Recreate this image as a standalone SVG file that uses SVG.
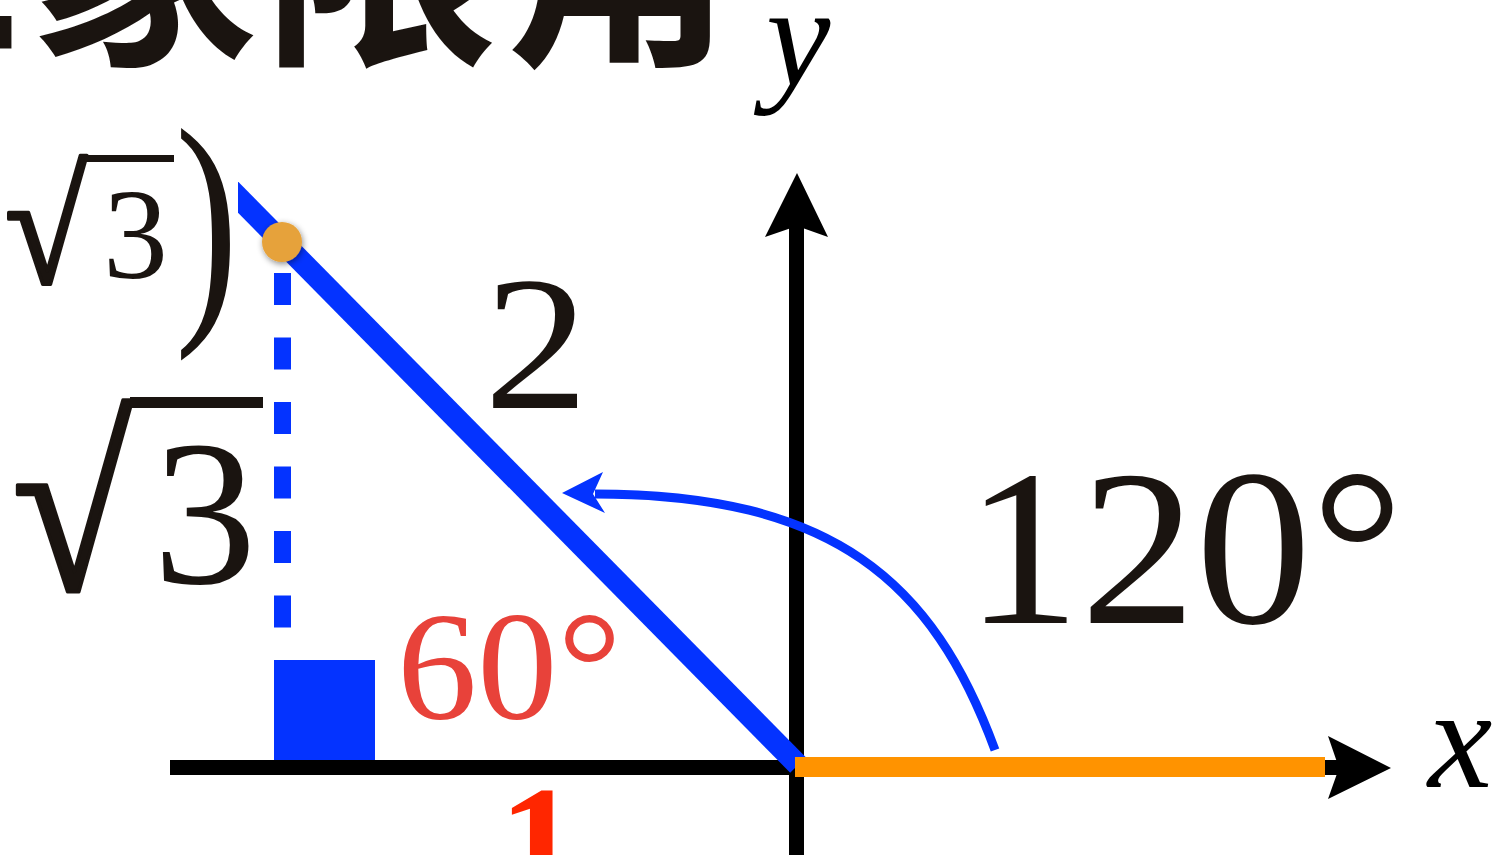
<svg xmlns="http://www.w3.org/2000/svg" width="1494" height="855" viewBox="0 0 1494 855">
  <style>
    .serif { font-family: "Liberation Serif", "Times New Roman", serif; }
    .ink { fill: #1a1410; }
    .blue { fill: #0433ff; }
    .axis { stroke: #000; stroke-width: 15; fill: none; }
    .rad { stroke: #1a1410; stroke-width: 3; stroke-linejoin: round; }
  </style>
  <defs>
    <clipPath id="clipHyp"><rect x="238" y="0" width="1256" height="855"/></clipPath>
    <filter id="shadow" x="-50%" y="-50%" width="200%" height="200%">
      <feDropShadow dx="1" dy="2" stdDeviation="3" flood-color="#000" flood-opacity="0.45"/>
    </filter>
  </defs>

  <g id="title">
    <text x="-450" y="47" font-family="'Noto Sans CJK SC', sans-serif" font-weight="700" font-size="237" class="ink">第二象限角</text>
  </g>

  <g id="axes">
    <line class="axis" x1="170" y1="767.5" x2="1340" y2="767.5"/>
    <polygon points="1391,768 1328,736 1339,768 1328,799" fill="#000"/>
    <line class="axis" x1="796.5" y1="855" x2="796.5" y2="226"/>
    <polygon points="797,173 765,237 797,226 828,237" fill="#000"/>
    <text class="serif" x="1428" y="787" font-size="145" font-style="italic" fill="#000">x</text>
    <text class="serif" x="766" y="85" font-size="145" font-style="italic" fill="#000">y</text>
  </g>

  <g id="triangle">
    <line x1="282.5" y1="273" x2="282.5" y2="660" stroke="#0433ff" stroke-width="17" stroke-dasharray="32 32.5"/>
    <rect class="blue" x="274" y="660" width="101" height="100"/>
    <line x1="225" y1="184" x2="798" y2="765" stroke="#0433ff" stroke-width="22" clip-path="url(#clipHyp)"/>
    <line x1="795" y1="767" x2="1325" y2="767" stroke="#ff9300" stroke-width="20"/>
    <circle cx="282" cy="242" r="20" fill="#e6a23a" filter="url(#shadow)"/>
  </g>

  <g id="connectors">
    <path d="M 995 750 C 933 581, 833 494, 595 494" fill="none" stroke="#0433ff" stroke-width="9"/>
    <polygon points="562,493 603,472 593,494 605,513" fill="#0433ff"/>
  </g>

  <g id="labels">
    <text class="serif ink" transform="translate(484,408) scale(1.1,1)" font-size="190">2</text>
    <text class="serif ink" transform="translate(965,623) scale(1.04,1)" font-size="222">120°</text>
    <text class="serif" transform="translate(397,718) scale(1.035,1)" font-size="155" fill="#e8423a">60°</text>
    <text class="serif" x="499" y="897" font-size="160" font-weight="bold" fill="#ff2600">1</text>
  </g>

  <g id="sqrt-large">
    <text class="serif ink rad" transform="translate(12,590) scale(1.1,1.2)" font-size="200">√</text>
    <rect class="ink" x="130" y="397" width="133" height="11"/>
    <text class="serif ink" x="153" y="583" font-size="207">3</text>
  </g>

  <g id="sqrt-small">
    <text class="serif ink rad" transform="translate(5,283) scale(1.15,1.24)" font-size="130">√</text>
    <rect class="ink" x="86" y="155" width="88" height="7"/>
    <text class="serif ink" x="103" y="278" font-size="130">3</text>
    <text class="serif ink" transform="translate(175,306) scale(1,1.35)" font-size="190">)</text>
  </g>
</svg>
